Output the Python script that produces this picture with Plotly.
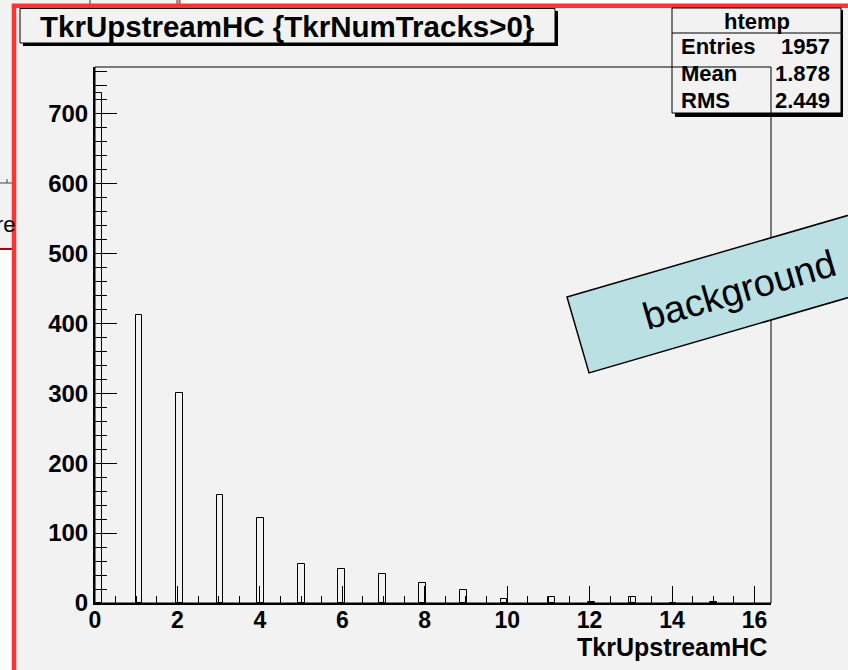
import math
import plotly.graph_objects as go

# ---- data ----
hc_values = [0, 1, 2, 3, 4, 5, 6, 7, 8, 9, 10, 11, 12, 13, 14, 15]
hc_counts = [730, 412, 301, 155, 122, 56, 48, 41, 28, 18, 6, 8, 2, 8, 0, 2]
x_range = [0, 16.4]
n_bins = 100
y_range = [0, 766.5]
title_text = "TkrUpstreamHC {TkrNumTracks>0}"
x_title = "TkrUpstreamHC"
hist_name = "htemp"
stats_labels = ["Entries", "Mean", "RMS"]
stats_values = ["1957", "1.878", "2.449"]
label_text = "background"

W, H = 848, 670
BG = "#f2f2f2"
FONT = "Liberation Sans"


def px(x, y):
    return x / W, 1 - y / H


bw = (x_range[1] - x_range[0]) / n_bins
bin_centers = [(int(v / bw) + 0.5) * bw for v in hc_values]

fig = go.Figure()
fig.add_trace(go.Bar(
    x=bin_centers, y=hc_counts, width=bw,
    marker=dict(color="rgba(0,0,0,0)", line=dict(color="black", width=1)),
    showlegend=False, hoverinfo="skip",
))

shapes = []
annotations = []


def rect(x0, y0, x1, y1, fill=None, line_color="black", lw=1, layer="above"):
    a = px(x0, y0)
    b = px(x1, y1)
    shapes.append(dict(type="rect", xref="paper", yref="paper",
                       x0=a[0], y0=b[1], x1=b[0], y1=a[1],
                       fillcolor=fill if fill else "rgba(0,0,0,0)",
                       line=dict(color=line_color, width=lw), layer=layer))


def line(x0, y0, x1, y1, color="black", lw=1):
    a = px(x0, y0)
    b = px(x1, y1)
    shapes.append(dict(type="line", xref="paper", yref="paper",
                       x0=a[0], y0=a[1], x1=b[0], y1=b[1],
                       line=dict(color=color, width=lw), layer="above"))


def text(x, y, s, size, bold=True, xanchor="center", yanchor="middle", angle=0):
    p = px(x, y)
    annotations.append(dict(xref="paper", yref="paper", x=p[0], y=p[1], text=s,
                            showarrow=False, xanchor=xanchor, yanchor=yanchor,
                            textangle=angle,
                            font=dict(family=FONT, size=size, color="black",
                                      weight="bold" if bold else "normal")))


# background windows outside red frame
rect(179, 0, W, 4, fill="white", line_color="rgba(0,0,0,0)", lw=0)
line(90, 0, 90, 5, color="#333333", lw=1)
line(177, 0, 177, 5, color="#333333", lw=1)
line(179.5, 0, 179.5, 5, color="#ff3333", lw=2)
text(18, 225, "re", 22, bold=False, xanchor="right")
rect(0, 249, 13, H, fill="white", line_color="rgba(0,0,0,0)", lw=0)
line(0, 249, 13, 249, color="#b00000", lw=2)
line(0, 183, 12, 183, color="#444444", lw=1)
line(7, 179, 7, 183, color="#444444", lw=1)

# red frame
line(14, 5.8, 14, H, color="#ff3333", lw=4.5)
line(11.8, 5.8, W, 5.8, color="#ff3333", lw=4.5)

# title box with shadow
rect(23, 11, 558, 46, fill="black", lw=0)
rect(20, 8.5, 555, 43, fill=BG, line_color="black", lw=1)
text(287.5, 26.5, title_text, 29.5)

# stats box with shadow
rect(675, 10, 843, 117, fill="black", lw=0)
rect(672, 8, 841, 113, fill=BG, line_color="black", lw=1)
line(672, 33, 841, 33, lw=1)
text(756.5, 21, hist_name, 22)
for i, (lab, val) in enumerate(zip(stats_labels, stats_values)):
    yy = 46.5 + i * 26.8
    text(679, yy, lab, 22, xanchor="left")
    text(832, yy, val, 22, xanchor="right")

# plot frame (thin top/right)
rect(95, 67, 771, 603, lw=1)

# x axis title
text(769, 647, x_title, 25, xanchor="right")

# rotated "background" label
ang = math.radians(16.2)
dx, dy = math.cos(ang), -math.sin(ang)
nx, ny = math.sin(ang), math.cos(ang)
LT = (567, 297)
hgt = 79
L = 450
LB = (LT[0] + hgt * nx, LT[1] + hgt * ny)
RT = (LT[0] + L * dx, LT[1] + L * dy)
RB = (LB[0] + L * dx, LB[1] + L * dy)
pts = [px(*LT), px(*RT), px(*RB), px(*LB)]
path = "M " + " L ".join(f"{p[0]:.5f},{p[1]:.5f}" for p in pts) + " Z"
shapes.append(dict(type="path", xref="paper", yref="paper", path=path,
                   fillcolor="#bae0e4", line=dict(color="black", width=1.5), layer="above"))
text(739, 290, label_text, 38, bold=False, angle=-16.2)

fig.update_layout(
    width=W, height=H,
    margin=dict(l=0, r=0, t=0, b=0),
    paper_bgcolor=BG, plot_bgcolor="rgba(0,0,0,0)",
    bargap=0,
    shapes=shapes, annotations=annotations,
    showlegend=False,
    xaxis=dict(
        domain=[95 / W, 771 / W], range=x_range, automargin=False,
        showgrid=False, zeroline=False,
        showline=True, linecolor="black", linewidth=2,
        ticks="inside", ticklen=17, tickwidth=1.2, tickcolor="black",
        dtick=2, tick0=0,
        minor=dict(ticks="inside", ticklen=7, dtick=0.5, tickwidth=1, tickcolor="black", showgrid=False),
        tickfont=dict(family=FONT, size=23, color="black", weight="bold"),
        ticklabelstandoff=-5,
    ),
    yaxis=dict(
        domain=[1 - 603 / H, 1 - 67 / H], range=y_range, automargin=False,
        showgrid=False, zeroline=False,
        showline=True, linecolor="black", linewidth=2,
        ticks="inside", ticklen=22, tickwidth=1.2, tickcolor="black",
        dtick=100, tick0=0,
        minor=dict(ticks="inside", ticklen=12, dtick=20, tickwidth=1, tickcolor="black", showgrid=False),
        tickfont=dict(family=FONT, size=24, color="black", weight="bold"),
        ticklabelstandoff=0,
    ),
)

fig.write_html(
    "out.html",
    config={"displayModeBar": False},
    post_script="document.body.style.margin='0px';document.body.style.overflow='hidden';",
)
